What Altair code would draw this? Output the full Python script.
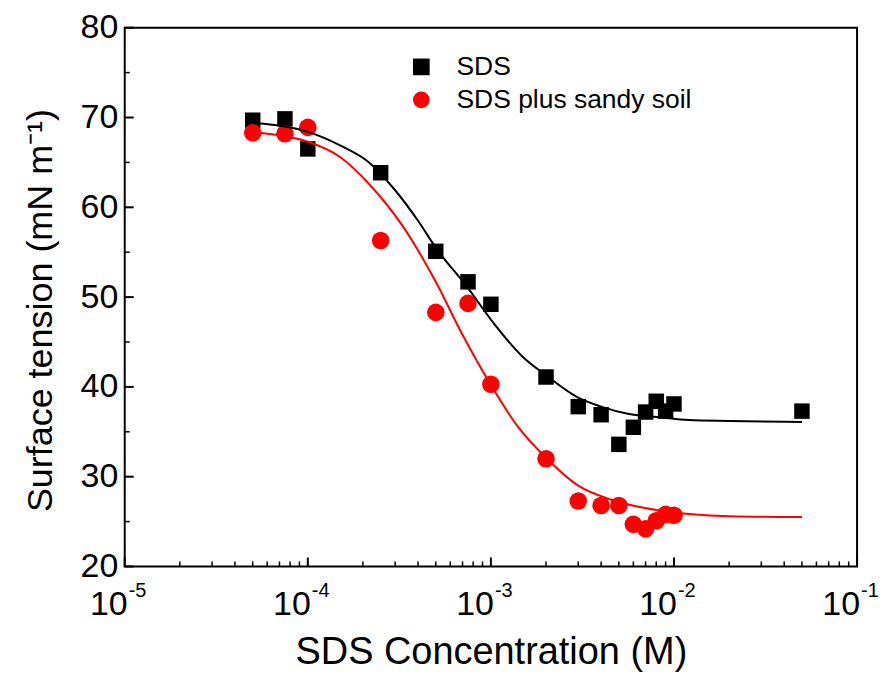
import altair as alt
import pandas as pd

# ---- data ----
series_names = ["SDS", "SDS plus sandy soil"]

conc_sds = [5e-5, 7.5e-5, 1e-4, 2.5e-4, 5e-4, 7.5e-4, 1e-3, 2e-3, 3e-3, 4e-3,
            5e-3, 6e-3, 7e-3, 8e-3, 9e-3, 1e-2, 5e-2]
st_sds = [69.7, 69.85, 66.5, 63.85, 55.1, 51.7, 49.2, 41.1, 37.8, 36.9,
          33.6, 35.5, 37.2, 38.4, 37.3, 38.1, 37.3]

conc_soil = [5e-5, 7.5e-5, 1e-4, 2.5e-4, 5e-4, 7.5e-4, 1e-3, 2e-3, 3e-3, 4e-3,
             5e-3, 6e-3, 7e-3, 8e-3, 9e-3, 1e-2]
st_soil = [68.3, 68.2, 68.9, 56.3, 48.3, 49.3, 40.3, 32.0, 27.3, 26.8,
           26.8, 24.7, 24.2, 25.1, 25.8, 25.7]

# fitted curves
fit_conc_sds = [5e-5, 7.5e-5, 1e-4, 1.5e-4, 2.16e-4, 3e-4, 4e-4, 5e-4, 7.5e-4, 1e-3,
                1.5e-3, 2e-3, 3e-3, 4e-3, 5.6e-3, 8.5e-3, 1.2e-2, 2e-2, 5e-2]
fit_st_sds = [69.4, 69.0, 68.4, 66.9, 65.0, 61.9, 58.5, 55.5, 51.0, 47.5,
              43.3, 41.3, 38.8, 37.8, 37.0, 36.6, 36.3, 36.2, 36.1]

fit_conc_soil = [5e-5, 7.5e-5, 1e-4, 1.5e-4, 2.16e-4, 3.3e-4, 5e-4, 7e-4, 1e-3, 1.4e-3,
                 2e-3, 3e-3, 4.6e-3, 8.5e-3, 2e-2, 5e-2]
fit_st_soil = [68.4, 67.9, 67.3, 65.6, 62.6, 57.9, 51.7, 45.8, 40.2, 35.6,
               32.1, 29.0, 27.4, 26.2, 25.6, 25.5]

series_colors = ["#000000", "#ff0000"]
series_shapes = ["square", "circle"]

x_major = [1e-5, 1e-4, 1e-3, 1e-2, 1e-1]
x_label_base = ["10", "10", "10", "10", "10"]
x_label_exp = ["-5", "-4", "-3", "-2", "-1"]
x_minor = [m * d for d in x_major[:-1] for m in range(2, 10)]
y_major = [20, 30, 40, 50, 60, 70, 80]
y_minor = [25, 35, 45, 55, 65, 75]

# ---- tables ----
pts = pd.concat([
    pd.DataFrame({"conc": conc_sds, "st": st_sds, "series": series_names[0]}),
    pd.DataFrame({"conc": conc_soil, "st": st_soil, "series": series_names[1]}),
])
fits = pd.concat([
    pd.DataFrame({"conc": fit_conc_sds, "st": fit_st_sds, "series": series_names[0], "col": series_colors[0]}),
    pd.DataFrame({"conc": fit_conc_soil, "st": fit_st_soil, "series": series_names[1], "col": series_colors[1]}),
])
xlab = pd.DataFrame({"conc": x_major, "base": x_label_base, "exp": x_label_exp})

FONT = "Liberation Sans"
W, H = 734, 540

xscale = alt.Scale(type="log", domain=[1e-5, 1e-1], nice=False)
yscale = alt.Scale(domain=[20, 80], nice=False, zero=False)

xaxis = alt.Axis(values=x_major, labels=False, ticks=False, domain=False, grid=False,
                 title="SDS Concentration (M)", titleFont=FONT, titleFontSize=38,
                 titleFontWeight="normal", titleColor="black", titleX=W / 2, titleY=97,
                 titleAlign="center", titleBaseline="alphabetic")
yaxis = alt.Axis(values=y_major, ticks=False, domain=False, grid=False,
                 labelFont=FONT, labelFontSize=34, labelColor="black", labelPadding=7,
                 labelFlush=False, labelOverlap=False,
                 title="Surface tension (mN m\u207b\u00b9)", titleFont=FONT, titleFontSize=36,
                 titleFontWeight="normal", titleColor="black", titleAngle=270,
                 titleX=-73, titleY=283, titleAlign="center", titleBaseline="alphabetic")

X = alt.X("conc:Q", scale=xscale, axis=xaxis)
Y = alt.Y("st:Q", scale=yscale, axis=yaxis)

legend = alt.Legend(title=None, orient="none", legendX=284, legendY=26, padding=0,
                    labelFont=FONT, labelFontSize=26.5, labelColor="black", labelOffset=22,
                    labelLimit=0, symbolSize=280, symbolStrokeWidth=0, rowPadding=6,
                    symbolOpacity=1)

points = alt.Chart(pts).mark_point(filled=True, opacity=1, strokeWidth=0).encode(
    x=X, y=Y,
    color=alt.Color("series:N", scale=alt.Scale(domain=series_names, range=series_colors), legend=legend),
    shape=alt.Shape("series:N", scale=alt.Scale(domain=series_names, range=series_shapes), legend=legend),
    size=alt.condition("datum.series == 'SDS'", alt.value(240), alt.value(310)),
)

lines = alt.Chart(fits).mark_line(strokeWidth=2, interpolate="monotone").encode(
    x=X, y=Y, detail="series:N", color=alt.Color("col:N", scale=None),
)

xt_major = alt.Chart(pd.DataFrame({"conc": x_major})).mark_rule(color="black", strokeWidth=2).encode(
    x=X, y=alt.value(H), y2=alt.value(H - 9))
xt_minor = alt.Chart(pd.DataFrame({"conc": x_minor})).mark_rule(color="black", strokeWidth=1.5).encode(
    x=X, y=alt.value(H), y2=alt.value(H - 5))
yt_major = alt.Chart(pd.DataFrame({"st": y_major})).mark_rule(color="black", strokeWidth=2).encode(
    y=Y, x=alt.value(0), x2=alt.value(9))
yt_minor = alt.Chart(pd.DataFrame({"st": y_minor})).mark_rule(color="black", strokeWidth=1.5).encode(
    y=Y, x=alt.value(0), x2=alt.value(5))

xlab_base = alt.Chart(xlab).mark_text(align="right", baseline="alphabetic", font=FONT,
                                      fontSize=34, dx=3, color="black").encode(
    x=X, y=alt.value(H + 49), text="base:N")
xlab_exp = alt.Chart(xlab).mark_text(align="left", baseline="alphabetic", font=FONT,
                                     fontSize=20, dx=4, color="black").encode(
    x=X, y=alt.value(H + 31), text="exp:N")

chart = alt.layer(xt_major, xt_minor, yt_major, yt_minor, points, lines, xlab_base, xlab_exp).properties(
    width=W, height=H,
    autosize=alt.AutoSizeParams(type="none"),
    padding={"left": 117, "top": 19, "right": 23, "bottom": 106},
    background="white",
).configure_view(stroke="black", strokeWidth=2)

chart.save("out.html", embed_options={"renderer": "svg", "actions": False})
